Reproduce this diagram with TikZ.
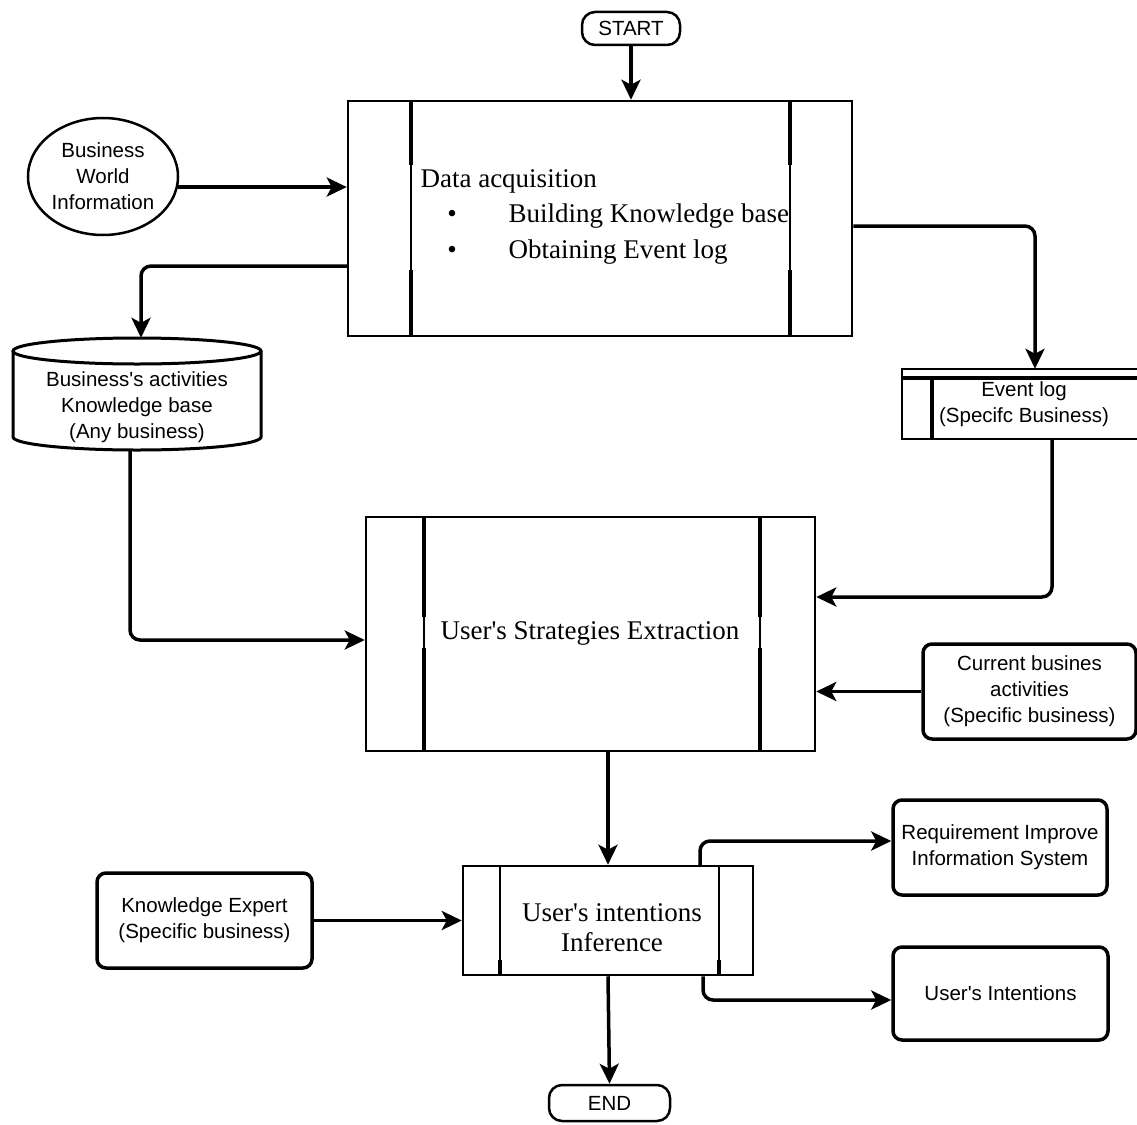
\documentclass[tikz,border=0pt]{standalone}
\usepackage{fontspec}
\setmainfont{Liberation Serif}
\setsansfont{Liberation Sans}
\usetikzlibrary{arrows.meta,shapes.geometric}
\begin{document}
\begin{tikzpicture}[x=1pt,y=-1pt,
  sansf/.style={font=\sffamily\fontsize{20.5}{26}\selectfont, align=center},
  seriff/.style={font=\fontsize{27}{30}\selectfont, align=center},
  procbox/.style={draw, line width=2.5pt, inner sep=0pt},
  rbox/.style={draw, line width=3.5pt, rounded corners=9pt, inner sep=0pt, sansf},
  term/.style={draw, line width=2.5pt, rounded corners=13pt, inner sep=0pt, sansf},
  conn/.style={line width=3.5pt, -{Stealth[length=20pt,width=19pt,inset=5pt]}, rounded corners=10pt},
  thickl/.style={line width=4.5pt},
  thinl/.style={line width=1.8pt},
]
\useasboundingbox (0,0) rectangle (1137,1124);
\fill[white] (0,0) rectangle (1137,1124);

% START
\node[term, minimum width=98pt, minimum height=33pt] (start) at (631,28.5) {START};

% Data acquisition
\node[procbox, minimum width=504pt, minimum height=235pt] (acq) at (600,218.5) {};
\draw[thinl] (411,101) -- (411,336) (790,101) -- (790,336);
\draw[thickl] (411,101) -- (411,165) (411,270) -- (411,336)
              (790,101) -- (790,165) (790,270) -- (790,336);
\node[seriff, anchor=west] (acqT) at (417,181) {Data acquisition};
\node[seriff] (b1) at (452,216) {\textbullet};
\node[seriff] (b2) at (452,252) {\textbullet};
\node[seriff, anchor=west] (i1) at (505,216) {Building Knowledge base};
\node[seriff, anchor=west] (i2) at (505,252) {Obtaining Event log};

% Business World Information
\node[ellipse, draw, line width=2.5pt, minimum width=150pt, minimum height=117pt, inner sep=0pt, sansf] (bwi) at (103,176.5) {Business\\World\\Information};

% Knowledge base cylinder
\node[minimum width=248pt, minimum height=112pt, inner sep=0pt] (kb) at (137,394) {};
\draw[line width=3pt] (13,351) -- (13,437) arc[start angle=180, end angle=360, x radius=124pt, y radius=13pt] -- (261,351);
\draw[line width=3pt] (137,351) ellipse[x radius=124pt, y radius=13pt];
\node[sansf] (kbT) at (137,407) {Business\textquotesingle s activities\\Knowledge base\\(Any business)};

% Event log
\node[minimum width=238pt, minimum height=70pt, inner sep=0pt] (evlog) at (1021,404) {};
\draw[line width=2.5pt] (902,369) rectangle (1140,439);
\draw[line width=4pt] (902,378) -- (1140,378);
\draw[line width=3.5pt] (932,378) -- (932,439);
\node[sansf] (evT) at (1024,404) {Event log\\(Specifc Business)};

% User's Strategies Extraction
\node[procbox, minimum width=449pt, minimum height=234pt] (strat) at (590.5,634) {};
\draw[thinl] (424,517) -- (424,751) (760,517) -- (760,751);
\draw[thickl] (424,517) -- (424,617) (424,648) -- (424,751)
              (760,517) -- (760,617) (760,648) -- (760,751);
\node[seriff] (stratT) at (590,633) {User\textquotesingle s Strategies Extraction};

% Current business activities
\node[rbox, minimum width=213pt, minimum height=95pt] (cur) at (1029.5,691.5) {Current busines\\activities\\(Specific business)};

% Inference
\node[procbox, minimum width=290pt, minimum height=109pt] (inf) at (608,920.5) {};
\draw[thinl] (500,866) -- (500,975) (719,866) -- (719,975);
\draw[thickl] (500,960) -- (500,975) (719,960) -- (719,975);
\node[seriff] (infT) at (612,928) {User\textquotesingle s intentions\\Inference};

% Knowledge Expert
\node[rbox, minimum width=215pt, minimum height=95pt] (ke) at (204.5,920.5) {Knowledge Expert\\(Specific business)};

% Requirement / User's Intentions
\node[rbox, minimum width=214pt, minimum height=95pt] (req) at (1000,847.5) {Requirement Improve\\Information System};
\node[rbox, minimum width=215pt, minimum height=93pt] (ui) at (1000.5,993.5) {User\textquotesingle s Intentions};

% END
\node[term, minimum width=121pt, minimum height=36pt] (end) at (609.5,1103) {END};

% Connectors
\draw[conn] (start.south) -- (start.south |- acq.north);
\draw[conn] (bwi.-8) -- (bwi.-8 -| acq.west);
\draw[conn] ([yshift=-47.5pt]acq.west) -| ([xshift=4pt]kb.north);
\draw[conn] ([xshift=-7pt]kb.south) |- ([yshift=-6pt]strat.west);
\draw[conn] ([yshift=-7.5pt]acq.east) -| ([xshift=14pt]evlog.north);
\draw[conn] ([xshift=31pt]evlog.south) |- ([yshift=37pt]strat.east);
\draw[conn] (cur.west) -- (cur.west -| strat.east);
\draw[conn] (inf.north |- strat.south) -- (inf.north);
\draw[conn] (ke.east) -- (inf.west);
\draw[conn] ([xshift=92pt]inf.north) |- ([yshift=6.5pt]req.west);
\draw[conn] ([xshift=95pt]inf.south) |- ([yshift=-6.5pt]ui.west);
\draw[conn] (inf.south) -- (end.north);
\end{tikzpicture}
\end{document}
